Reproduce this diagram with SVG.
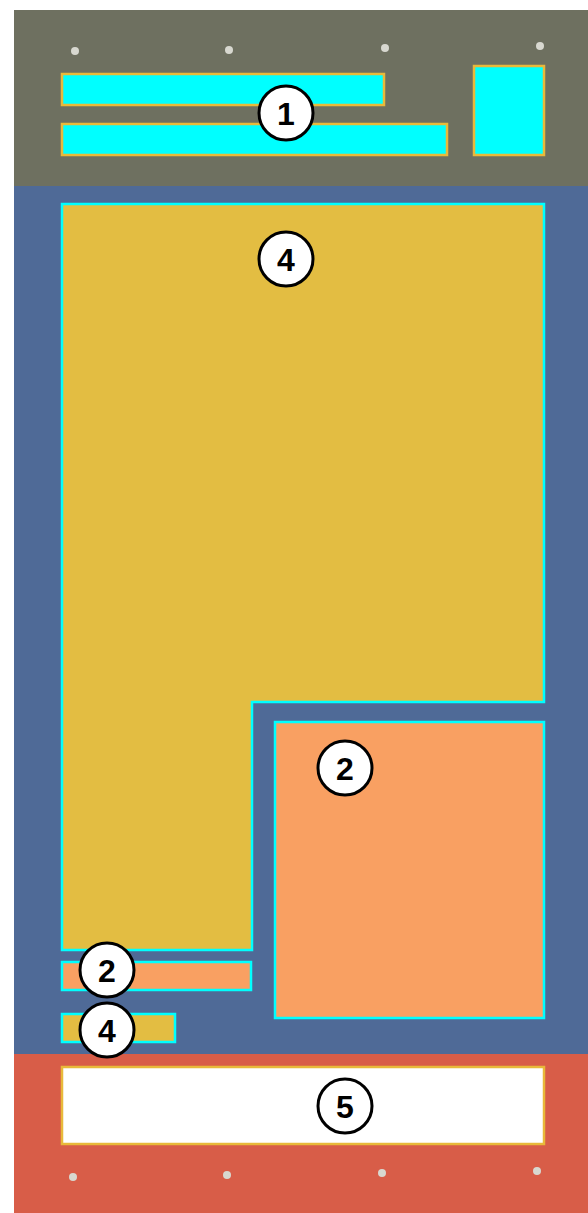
<svg xmlns="http://www.w3.org/2000/svg" width="588" height="1213" viewBox="0 0 588 1213">
<defs>
<style>
.dot{fill:#d8d8d0}
.cy{fill:#00ffff;stroke:#e8b93a;stroke-width:2.5}
.yl{fill:#e3bd42;stroke:#00ffff;stroke-width:2.5}
.or{fill:#f9a062;stroke:#00ffff;stroke-width:2.5}
.badge circle{fill:#fff;stroke:#000;stroke-width:3}
.badge text{font-family:"Liberation Sans",Arial,sans-serif;font-weight:bold;font-size:32px;text-anchor:middle;fill:#000}
</style>
</defs>
<rect width="588" height="1213" fill="#ffffff"/>
<g id="zones">
<rect x="14" y="10" width="574" height="178" fill="#6e7060"/>
<rect x="14" y="186" width="574" height="870" fill="#4f6a97"/>
<rect x="14" y="1054" width="574" height="159" fill="#d85d48"/>
</g>
<g id="dots">
<circle class="dot" cx="75" cy="51" r="4"/>
<circle class="dot" cx="229" cy="50" r="4"/>
<circle class="dot" cx="385" cy="48" r="4"/>
<circle class="dot" cx="540" cy="46" r="4"/>
<circle class="dot" cx="73" cy="1177" r="4"/>
<circle class="dot" cx="227" cy="1175" r="4"/>
<circle class="dot" cx="382" cy="1173" r="4"/>
<circle class="dot" cx="537" cy="1171" r="4"/>
</g>
<g id="n1">
<rect class="cy" x="62" y="74" width="322" height="31"/>
<rect class="cy" x="62" y="124" width="385" height="31"/>
<rect class="cy" x="474" y="66" width="70" height="89"/>
<g class="badge"><circle cx="286" cy="113" r="27"/><text x="286" y="125">1</text></g>
</g>
<g id="n4a">
<path class="yl" d="M62 204 H544 V702 H252 V950 H62 Z"/>
<g class="badge"><circle cx="286" cy="259" r="27"/><text x="286" y="271">4</text></g>
</g>
<g id="n2a">
<rect class="or" x="275" y="722" width="269" height="296"/>
<g class="badge"><circle cx="345" cy="768" r="27"/><text x="345" y="780">2</text></g>
</g>
<g id="n2b">
<rect class="or" x="62" y="962" width="189" height="28"/>
<g class="badge"><circle cx="107" cy="970" r="27"/><text x="107" y="982">2</text></g>
</g>
<g id="n4b">
<rect class="yl" x="62" y="1014" width="113" height="28"/>
<g class="badge"><circle cx="107" cy="1030" r="27"/><text x="107" y="1042">4</text></g>
</g>
<g id="n5">
<rect x="62" y="1067" width="482" height="77" fill="#ffffff" stroke="#e8b93a" stroke-width="2.5"/>
<g class="badge"><circle cx="345" cy="1106" r="27"/><text x="345" y="1118">5</text></g>
</g>
<g id="connectors"/>
</svg>
